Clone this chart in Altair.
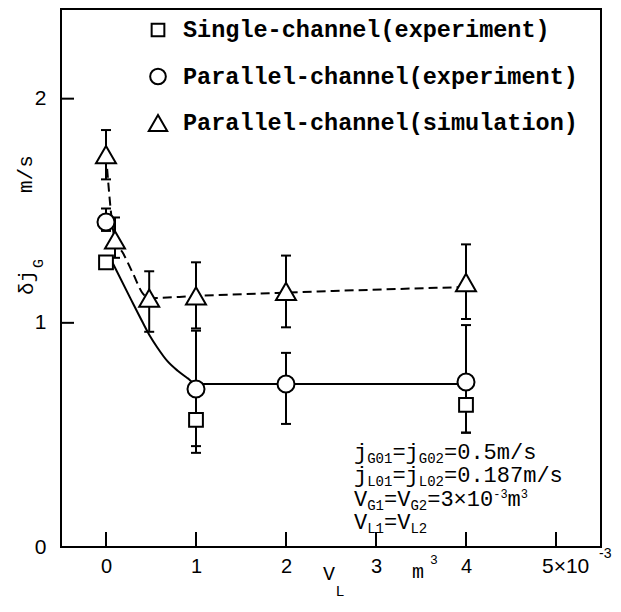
import altair as alt
import pandas as pd

# ---------------- data (V_L in 10^-3 m^3, delta j_G in m/s) ----------------
single_x = [0.0, 1.0, 4.0]
single_y = [1.27, 0.567, 0.634]
single_bar_x = [1.0, 4.0]
single_bar_lo = [0.42, 0.51]
single_bar_hi = [0.70, 0.74]

par_exp_x = [0.0, 1.0, 2.0, 4.0]
par_exp_y = [1.45, 0.705, 0.727, 0.736]
par_exp_lo = [1.41, 0.45, 0.549, 0.51]
par_exp_hi = [1.51, 0.965, 0.866, 0.99]

par_sim_x = [0.0, 0.1, 0.48, 1.0, 2.0, 4.0]
par_sim_y = [1.75, 1.37, 1.11, 1.12, 1.14, 1.18]
par_sim_lo = [1.64, 1.29, 0.96, 0.975, 0.98, 1.017]
par_sim_hi = [1.86, 1.47, 1.23, 1.27, 1.30, 1.35]

# trend curves through the experiment and the simulation
exp_curve_x = [0.07, 0.27, 0.41, 0.49, 0.57, 0.68, 0.8, 0.91, 1.0, 2.0, 4.0]
exp_curve_y = [1.27, 1.11, 1.00, 0.94, 0.89, 0.83, 0.785, 0.752, 0.727, 0.727, 0.727]
sim_curve_x = [0.0, 0.1, 0.19, 0.3, 0.41, 0.48, 1.0, 2.0, 4.0]
sim_curve_y = [1.75, 1.37, 1.31, 1.22, 1.13, 1.11, 1.12, 1.135, 1.16]

series_names = [
    "Single-channel(experiment)",
    "Parallel-channel(experiment)",
    "Parallel-channel(simulation)",
]
series_shapes = ["square", "circle", "triangle-up"]
series_sizes = [190, 289, 400]

x_ticks = [0, 1, 2, 3, 4, 5]
x_tick_labels = [0, 1, 2, 3, 4]
y_ticks = [1, 2]
y_tick_labels = [0, 1, 2]

# ---------------- layout ----------------
W, H = 540, 538
MONO = "Liberation Mono"
SANS = "Liberation Sans"

xs = alt.Scale(domain=[-0.5, 5.5], nice=False, zero=False)
ys = alt.Scale(domain=[0, 2.4], nice=False, zero=False)
x_axis = alt.Axis(values=x_tick_labels, ticks=False, tickSize=0, domain=False, grid=False,
                  labelFont=SANS, labelFontSize=20, labelPadding=9, labelColor="black",
                  title=None)
y_axis = alt.Axis(values=y_tick_labels, ticks=False, tickSize=0, domain=False, grid=False,
                  labelFont=SANS, labelFontSize=21, labelPadding=15, labelColor="black",
                  title=None)


def X(field):
    return alt.X(field, type="quantitative", scale=xs, axis=x_axis)


def Y(field):
    return alt.Y(field, type="quantitative", scale=ys, axis=y_axis)


one = pd.DataFrame({"k": [0]})


def txt(s, x, y, size, font=MONO, align="left", baseline="alphabetic", angle=None,
        weight="normal"):
    kw = dict(text=s, fontSize=size, font=font, align=align, baseline=baseline,
              fontWeight=weight, color="black")
    if angle is not None:
        kw["angle"] = angle
    return alt.Chart(one).mark_text(**kw).encode(x=alt.value(x), y=alt.value(y))


def rich_line(parts, x0, y0, main=22, sub=14, sup=12):
    """Monospace text with sub/superscripts laid out segment by segment."""
    out = []
    x = x0
    for s, kind in parts:
        size = {"n": main, "sub": sub, "sup": sup}[kind]
        dy = {"n": 0, "sub": 4, "sup": -8}[kind]
        out.append(txt(s, x, y0 + dy, size))
        x += len(s) * 0.6 * size
    return out


layers = []

# curves
exp_curve = pd.DataFrame({"x": exp_curve_x, "y": exp_curve_y})
sim_curve = pd.DataFrame({"x": sim_curve_x, "y": sim_curve_y})
layers.append(alt.Chart(exp_curve).mark_line(interpolate="monotone", color="black",
                                             strokeWidth=2).encode(x=X("x"), y=Y("y")))
layers.append(alt.Chart(sim_curve).mark_line(interpolate="monotone", color="black",
                                             strokeWidth=2, strokeDash=[9, 5])
              .encode(x=X("x"), y=Y("y")))

# error bars
bars = pd.concat([
    pd.DataFrame({"x": single_bar_x, "lo": single_bar_lo, "hi": single_bar_hi}),
    pd.DataFrame({"x": par_exp_x, "lo": par_exp_lo, "hi": par_exp_hi}),
    pd.DataFrame({"x": par_sim_x, "lo": par_sim_lo, "hi": par_sim_hi}),
], ignore_index=True)
layers.append(alt.Chart(bars).mark_rule(color="black", strokeWidth=2)
              .encode(x=X("x"), y=Y("lo"), y2="hi"))
for end in ["lo", "hi"]:
    layers.append(alt.Chart(bars).mark_tick(orient="horizontal", size=10, thickness=2,
                                            color="black", opacity=1)
                  .encode(x=X("x"), y=Y(end)))

# inward ticks
layers.append(alt.Chart(pd.DataFrame({"v": x_ticks})).mark_rule(color="black", strokeWidth=2)
              .encode(x=X("v"), y=alt.value(H), y2=alt.value(H - 15)))
layers.append(alt.Chart(pd.DataFrame({"v": y_ticks})).mark_rule(color="black", strokeWidth=2)
              .encode(y=Y("v"), x=alt.value(0), x2=alt.value(13)))

# markers
points = [
    pd.DataFrame({"x": single_x, "y": single_y}),
    pd.DataFrame({"x": par_exp_x, "y": par_exp_y}),
    pd.DataFrame({"x": par_sim_x, "y": par_sim_y}),
]
for df, shape, size in zip(points, series_shapes, series_sizes):
    layers.append(alt.Chart(df).mark_point(shape=shape, size=size, filled=True, fill="white",
                                           stroke="black", strokeWidth=2, opacity=1)
                  .encode(x=X("x"), y=Y("y")))

# legend
for i, (name, shape, size) in enumerate(zip(series_names, series_shapes, series_sizes)):
    ly = 21 + i * 46.5
    layers.append(alt.Chart(one).mark_point(shape=shape, size=size * 0.85, filled=True,
                                            fill="white", stroke="black", strokeWidth=2,
                                            opacity=1)
                  .encode(x=alt.value(97), y=alt.value(ly)))
    layers.append(txt(name, 122, ly, 23.5, baseline="middle", weight="bold"))

# operating conditions
ax0 = 293
layers += rich_line([("j", "n"), ("G01", "sub"), ("=j", "n"), ("G02", "sub"),
                     ("=0.5m/s", "n")], ax0, 450)
layers += rich_line([("j", "n"), ("L01", "sub"), ("=j", "n"), ("L02", "sub"),
                     ("=0.187m/s", "n")], ax0, 473)
layers += rich_line([("V", "n"), ("G1", "sub"), ("=V", "n"), ("G2", "sub"),
                     ("=3×10", "n"), ("-3", "sup"), ("m", "n"), ("3", "sup")], ax0, 497)
layers += rich_line([("V", "n"), ("L1", "sub"), ("=V", "n"), ("L2", "sub")], ax0, 520)

# last x tick label with its exponent
layers.append(txt("5×10", 481, H + 9, 21, font=SANS, baseline="top"))
layers.append(txt("-3", 538, H, 14, font=SANS, baseline="top"))

# x axis title: V_L  m^3
layers.append(txt("V", 268, 571, 20, align="center"))
layers.append(txt("L", 279, 587, 15, align="center"))
layers.append(txt("m", 357, 569, 20, align="center"))
layers.append(txt("3", 373, 555, 13, align="center"))

# y axis title: delta j_G  m/s (rotated)
layers.append(txt("δj", -28, 286, 21, angle=270))
layers.append(txt("G", -18, 259, 15, angle=270))
layers.append(txt("m/s", -29, 184, 21, angle=270))

chart = (
    alt.layer(*layers)
    .properties(width=W, height=H,
                padding={"left": 61, "top": 9, "right": 20, "bottom": 65},
                autosize=alt.AutoSizeParams(type="none"),
                background="white")
    .configure_view(stroke="black", strokeWidth=2)
)

chart.save("out.html", embed_options={"renderer": "svg", "actions": False})
